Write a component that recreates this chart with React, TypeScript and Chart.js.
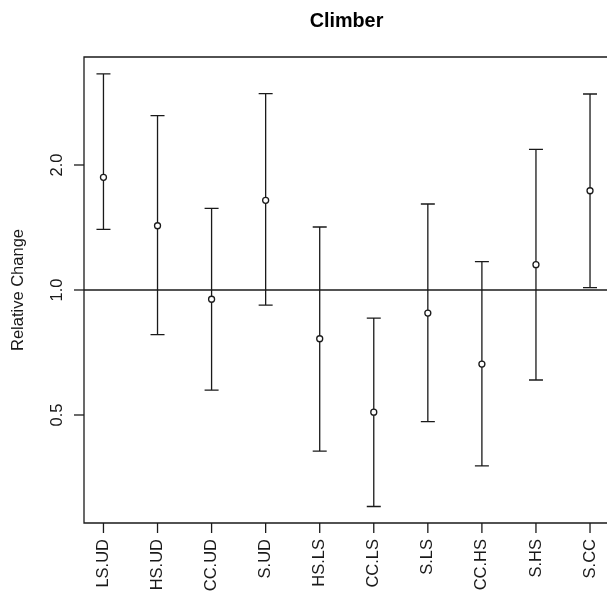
import React, { useEffect, useRef } from "react";
import { Chart, registerables } from "chart.js";

Chart.register(...registerables);

const chartTitle = "Climber";
const yAxisTitle = "Relative Change";
const categories = ["LS.UD", "HS.UD", "CC.UD", "S.UD", "HS.LS", "CC.LS", "S.LS", "CC.HS", "S.HS", "S.CC"];
const estimates = [1.868, 1.428, 0.950, 1.644, 0.763, 0.508, 0.880, 0.663, 1.151, 1.734];
const lower = [1.400, 0.781, 0.574, 0.920, 0.409, 0.301, 0.482, 0.377, 0.607, 1.013];
const upper = [3.313, 2.629, 1.573, 2.970, 1.418, 0.856, 1.611, 1.170, 2.182, 2.965];
const yTicks = [0.5, 1.0, 2.0];
const yTickLabels = ["0.5", "1.0", "2.0"];
const refLine = 1.0;

const FONT = '"Liberation Sans", Arial, sans-serif';
const INK = "#1a1a1a";

const drawPlugin = {
  id: "rPlot",
  beforeDatasetsDraw(chart: any) {
    const ctx = chart.ctx;
    const xs = chart.scales.x;
    const ys = chart.scales.y;
    const area = chart.chartArea;
    ctx.save();
    ctx.strokeStyle = INK;
    ctx.lineWidth = 1.3;
    // reference line
    const yr = ys.getPixelForValue(refLine);
    ctx.beginPath();
    ctx.moveTo(area.left, yr);
    ctx.lineTo(area.right + 3, yr);
    ctx.stroke();
    // error bars
    categories.forEach((_, i) => {
      const x = xs.getPixelForValue(i + 1);
      const yl = ys.getPixelForValue(lower[i]);
      const yu = ys.getPixelForValue(upper[i]);
      ctx.beginPath();
      ctx.moveTo(x, yu);
      ctx.lineTo(x, yl);
      ctx.moveTo(x - 7, yu);
      ctx.lineTo(x + 7, yu);
      ctx.moveTo(x - 7, yl);
      ctx.lineTo(x + 7, yl);
      ctx.stroke();
    });
    ctx.restore();
  },
  afterDraw(chart: any) {
    const ctx = chart.ctx;
    const xs = chart.scales.x;
    const ys = chart.scales.y;
    const area = chart.chartArea;
    ctx.save();
    ctx.strokeStyle = INK;
    ctx.fillStyle = INK;
    ctx.lineWidth = 1.3;
    // box (right side falls off the canvas)
    ctx.beginPath();
    ctx.moveTo(area.right + 3, area.top);
    ctx.lineTo(area.left, area.top);
    ctx.lineTo(area.left, area.bottom);
    ctx.lineTo(area.right + 3, area.bottom);
    ctx.stroke();
    // y ticks and labels
    ctx.font = `16.5px ${FONT}`;
    yTicks.forEach((v, i) => {
      const y = ys.getPixelForValue(v);
      ctx.beginPath();
      ctx.moveTo(area.left - 10, y);
      ctx.lineTo(area.left, y);
      ctx.stroke();
      ctx.save();
      ctx.translate(area.left - 22.5, y);
      ctx.rotate(-Math.PI / 2);
      ctx.textAlign = "center";
      ctx.textBaseline = "alphabetic";
      ctx.fillText(yTickLabels[i], 0, 0);
      ctx.restore();
    });
    // x ticks and labels
    categories.forEach((c, i) => {
      const x = xs.getPixelForValue(i + 1);
      ctx.beginPath();
      ctx.moveTo(x, area.bottom);
      ctx.lineTo(x, area.bottom + 10);
      ctx.stroke();
      ctx.save();
      ctx.translate(x, area.bottom + 16);
      ctx.rotate(-Math.PI / 2);
      ctx.textAlign = "right";
      ctx.textBaseline = "middle";
      ctx.fillText(c, 0, 0);
      ctx.restore();
    });
    // y axis title
    ctx.save();
    ctx.translate(23, (area.top + area.bottom) / 2);
    ctx.rotate(-Math.PI / 2);
    ctx.textAlign = "center";
    ctx.textBaseline = "alphabetic";
    ctx.fillText(yAxisTitle, 0, 0);
    ctx.restore();
    // title
    ctx.font = `bold 19.8px ${FONT}`;
    ctx.fillStyle = "#000";
    ctx.textAlign = "center";
    ctx.textBaseline = "alphabetic";
    ctx.fillText(chartTitle, 346.5, 27);
    ctx.restore();
  },
};

export default function App() {
  const ref = useRef<HTMLCanvasElement | null>(null);
  useEffect(() => {
    if (!ref.current) return;
    const chart = new Chart(ref.current, {
      type: "scatter",
      data: {
        datasets: [
          {
            data: estimates.map((v, i) => ({ x: i + 1, y: v })),
            pointRadius: 3,
            pointHoverRadius: 3,
            pointBackgroundColor: "#ffffff",
            pointBorderColor: INK,
            pointBorderWidth: 1.3,
            showLine: false,
          },
        ],
      },
      options: {
        animation: false,
        responsive: false,
        devicePixelRatio: 1,
        events: [],
        layout: { autoPadding: false, padding: { left: 84, top: 57, right: 0, bottom: 70 } },
        plugins: { legend: { display: false }, title: { display: false }, tooltip: { enabled: false } },
        scales: {
          x: { type: "linear", min: 0.64, max: 10.314, display: false },
          y: { type: "logarithmic", min: 0.2747, max: 3.64, display: false },
        },
      },
      plugins: [drawPlugin],
    });
    return () => chart.destroy();
  }, []);
  return (
    <div style={{ position: "absolute", left: 0, top: 0, width: 607, height: 593, background: "#fff" }}>
      <canvas ref={ref} width={607} height={593} style={{ display: "block" }} />
    </div>
  );
}
